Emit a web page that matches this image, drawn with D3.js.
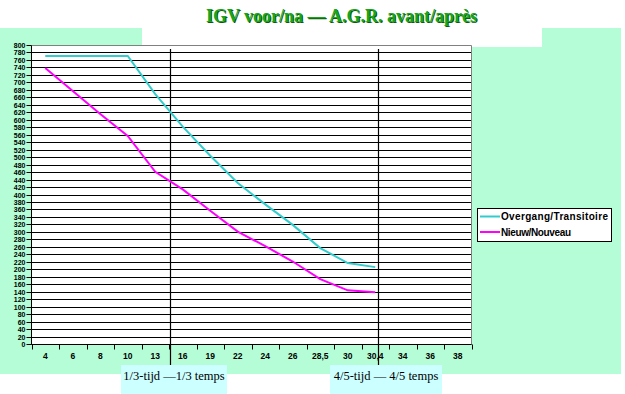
<!DOCTYPE html>
<html><head><meta charset="utf-8">
<script src="https://cdn.jsdelivr.net/npm/d3@7"></script>
<style>body{margin:0;background:#fff}svg{display:block}</style>
</head><body>
<svg id="c" width="625" height="394"></svg>
<script>
const categories = ["4","6","8","10","13","16","19","22","24","26","28,5","30","30,4","34","36","38"];
const overgang = [772,772,772,772,670,583,505,432,375,320,258,218,207,null,null,null];
const nieuw    = [740,678,617,558,462,415,358,302,263,222,175,145,140,null,null,null];
const seriesNames = ["Overgang/Transitoire","Nieuw/Nouveau"];
const yTicks = d3.range(0, 801, 20);
const title = "IGV voor/na \u2014 A.G.R. avant/apr\u00e8s";
const markerIdx = [5.05, 12.6];
const markerLabels = ["1/3-tijd \u20141/3 temps","4/5-tijd \u2014 4/5 temps"];

const svg = d3.select("#c");
const green = "#b4fdd6";
const L = 31.5, R = 471.5, T = 45.5, B = 344.5;

// backgrounds
svg.append("rect").attr("x",0).attr("y",28).attr("width",621).attr("height",346).attr("fill",green);
svg.append("rect").attr("x",142).attr("y",28).attr("width",400).attr("height",19).attr("fill","#fff");
svg.append("rect").attr("x",L).attr("y",T).attr("width",R-L).attr("height",B-T).attr("fill","#fff");

const x = d3.scaleBand().domain(categories).range([L,R]).padding(0);
const xi = d3.scaleLinear().domain([0,categories.length]).range([L,R]);
const y = d3.scaleLinear().domain([0,800]).range([B,T]);
const cy = v => Math.round(y(v)-0.5)+0.5;

// gridlines
svg.append("g").selectAll("line").data(yTicks.filter(v=>v<800)).join("line")
  .attr("x1",L).attr("x2",R).attr("y1",cy).attr("y2",cy)
  .attr("stroke","#000").attr("stroke-width",1);
// border top/right grey
svg.append("path").attr("d",`M${L},${T}H${R}V${B}`).attr("fill","none").attr("stroke","#808080");

// y axis
const yAxis = d3.axisLeft(y).tickValues(yTicks).tickSize(5).tickFormat(d3.format("d"));
const gy = svg.append("g").attr("transform",`translate(${L},0)`).call(yAxis);
gy.select(".domain").attr("stroke","#000").attr("d",`M0,${T}V${B}`);
gy.selectAll(".tick").attr("transform",d=>`translate(0,${cy(d)})`);
gy.selectAll(".tick line").attr("stroke","#000");
gy.selectAll(".tick text").attr("x",-6).attr("font-family","Liberation Sans, Arial, sans-serif")
  .attr("font-weight","bold").attr("font-size","7px").attr("fill","#000");

// x axis
const xAxis = d3.axisBottom(x).tickSize(0).tickPadding(8);
const gx = svg.append("g").attr("transform",`translate(0,${B})`).call(xAxis);
gx.select(".domain").attr("stroke","#000").attr("d",`M${L},0H${R}`);
gx.selectAll(".tick text").attr("font-family","Liberation Sans, Arial, sans-serif")
  .attr("font-weight","bold").attr("font-size","8.5px").attr("fill","#000");
svg.append("g").selectAll("line").data(d3.range(0,categories.length+1)).join("line")
  .attr("x1",i=>Math.round(xi(i))+0.5).attr("x2",i=>Math.round(xi(i))+0.5)
  .attr("y1",B).attr("y2",B+5).attr("stroke","#000");

// marker lines
svg.append("g").selectAll("line").data(markerIdx).join("line")
  .attr("x1",d=>Math.round(xi(d))+0.5).attr("x2",d=>Math.round(xi(d))+0.5)
  .attr("y1",49).attr("y2",365).attr("stroke","#000").attr("stroke-width",1.2);

// series
const colors = ["#33cccc","#ff00ff"];
[overgang,nieuw].forEach((vals,k)=>{
  const line = d3.line().defined(d=>d!=null)
    .x((d,i)=>x(categories[i])+x.bandwidth()/2).y(d=>y(d));
  svg.append("path").datum(vals).attr("d",line).attr("fill","none")
    .attr("stroke",colors[k]).attr("stroke-width",2);
});

// legend
const lg = svg.append("g");
lg.append("rect").attr("x",477.5).attr("y",208.5).attr("width",134).attr("height",33)
  .attr("fill","#fff").attr("stroke","#000");
seriesNames.forEach((n,k)=>{
  const yy = 216.5 + k*15.5;
  lg.append("line").attr("x1",480).attr("x2",500).attr("y1",yy).attr("y2",yy)
    .attr("stroke",colors[k]).attr("stroke-width",2);
  lg.append("text").attr("x",501).attr("y",yy).attr("dy","0.35em")
    .attr("font-family","Liberation Sans, Arial, sans-serif").attr("font-weight","bold")
    .attr("font-size","10px").attr("textLength", k===0?107:70).attr("fill","#000").text(n);
});

// marker label boxes
const boxes = [{x:121,w:106},{x:330,w:112}];
markerLabels.forEach((t,k)=>{
  svg.append("rect").attr("x",boxes[k].x).attr("y",365).attr("width",boxes[k].w).attr("height",29).attr("fill","#ccffff");
  svg.append("text").attr("x",boxes[k].x+boxes[k].w/2).attr("y",380).attr("text-anchor","middle")
    .attr("font-family","Liberation Serif, Times New Roman, serif").attr("font-size","12.5px").attr("fill","#000").text(t);
});

// title with shadow
svg.append("text").attr("x",342.5).attr("y",23).attr("text-anchor","middle")
  .attr("font-family","Liberation Serif, Times New Roman, serif").attr("font-weight","bold")
  .attr("font-size","18px").attr("fill","#0a5a0a").text(title);
svg.append("text").attr("x",341.5).attr("y",22).attr("text-anchor","middle")
  .attr("font-family","Liberation Serif, Times New Roman, serif").attr("font-weight","bold")
  .attr("font-size","18px").attr("fill","#1aa51a").text(title);
</script>
</body></html>
